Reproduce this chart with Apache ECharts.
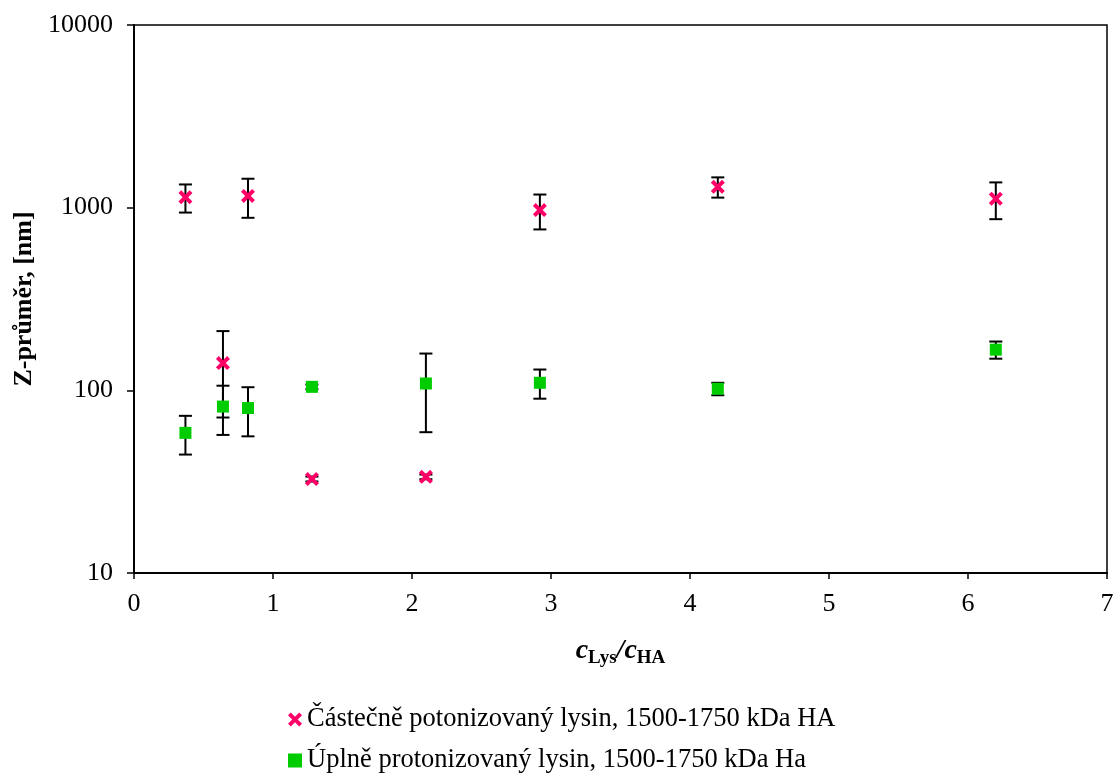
<!DOCTYPE html>
<html><head><meta charset="utf-8">
<script src="https://cdn.jsdelivr.net/npm/echarts@6/dist/echarts.min.js"></script>
<style>html,body{margin:0;padding:0;background:#fff}#c{width:1117px;height:774px}</style>
</head><body><div id="c"></div>
<script>
// Data
const xPartial = [0.37, 0.64, 0.82, 1.28, 2.10, 2.92, 4.20, 6.20];
const yPartial = [1140, 141, 1160, 32.7, 33.6, 970, 1300, 1120];
const errPartial = [200, 70, 280, 1, 1, 210, 165, 255];

const xFull = [0.37, 0.64, 0.82, 1.28, 2.10, 2.92, 4.20, 6.20];
const yFull = [58.5, 81.5, 80, 104.5, 109, 110, 102, 167];
const errFull = [14, 24.5, 24, 3, 50, 20, 8, 18];

const yTicks = [10, 100, 1000, 10000];
const seriesNames = ['Částečně potonizovaný lysin, 1500-1750 kDa HA', 'Úplně protonizovaný lysin, 1500-1750 kDa Ha'];

const crossPath = 'path://M0,2 L2,0 L5,3 L8,0 L10,2 L7,5 L10,8 L8,10 L5,7 L2,10 L0,8 L3,5 Z';
const font = '"Liberation Serif","Times New Roman",serif';

function pts(xs, ys) { return xs.map((x, i) => [x, ys[i]]); }
function errs(xs, ys, es) { return xs.map((x, i) => [x, ys[i] - es[i], ys[i] + es[i]]); }

function renderErr(params, api) {
  const x = api.value(0);
  const lo = api.coord([x, api.value(1)]);
  const hi = api.coord([x, api.value(2)]);
  const w = 6.5;
  const st = { stroke: '#000', lineWidth: 2 };
  return {
    type: 'group',
    children: [
      { type: 'line', shape: { x1: lo[0], y1: lo[1], x2: hi[0], y2: hi[1] }, style: st },
      { type: 'line', shape: { x1: lo[0] - w, y1: lo[1], x2: lo[0] + w, y2: lo[1] }, style: st },
      { type: 'line', shape: { x1: hi[0] - w, y1: hi[1], x2: hi[0] + w, y2: hi[1] }, style: st }
    ]
  };
}

const legendText = { fontFamily: font, fontSize: 26.5, color: '#000' };

const chart = echarts.init(document.getElementById('c'), null, { renderer: 'canvas' });
chart.setOption({
  animation: false,
  backgroundColor: '#fff',
  textStyle: { fontFamily: font },
  grid: { left: 134, right: 10, top: 25, bottom: 201, show: true, borderColor: '#000', borderWidth: 1.5 },
  legend: [
    {
      left: 283, top: 701, itemWidth: 14, itemHeight: 14, itemGap: 4,
      data: [{ name: seriesNames[0], icon: crossPath, itemStyle: { color: '#FF0066', opacity: 1 } }],
      textStyle: legendText
    },
    {
      left: 283, top: 742, itemWidth: 14, itemHeight: 14, itemGap: 4,
      data: [{ name: seriesNames[1], icon: 'rect', itemStyle: { color: '#00CC00', opacity: 1 } }],
      textStyle: legendText
    }
  ],
  xAxis: {
    type: 'value', min: 0, max: 7, interval: 1,
    axisLine: { lineStyle: { color: '#000', width: 2 } },
    axisTick: { show: true, inside: false, length: 6, lineStyle: { color: '#000', width: 1.5 } },
    axisLabel: { color: '#000', fontSize: 26, fontFamily: font, margin: 18 },
    splitLine: { show: false },
    name: '{c|c}{s|Lys}{c|/c}{s|HA}',
    nameLocation: 'middle', nameGap: 60,
    nameTextStyle: {
      rich: {
        c: { fontFamily: font, fontStyle: 'italic', fontWeight: 'bold', fontSize: 28, color: '#000' },
        s: { fontFamily: font, fontWeight: 'bold', fontSize: 19, color: '#000', padding: [16, 0, 0, 0] }
      }
    }
  },
  yAxis: {
    type: 'log', logBase: 10, min: 10, max: 10000,
    axisLine: { lineStyle: { color: '#000', width: 2 } },
    axisTick: { show: true, inside: false, length: 7, lineStyle: { color: '#000', width: 1.5 } },
    axisLabel: { color: '#000', fontSize: 26, fontFamily: font, margin: 21,
      formatter: v => yTicks.includes(Math.round(v)) ? String(Math.round(v)) : '' },
    minorTick: { show: false },
    splitLine: { show: false },
    name: 'Z-průměr, [nm]', nameLocation: 'middle', nameGap: 90,
    nameTextStyle: { fontFamily: font, fontWeight: 'bold', fontSize: 26, color: '#000' }
  },
  series: [
    { type: 'custom', name: 'errPartial', renderItem: renderErr, data: errs(xPartial, yPartial, errPartial), z: 1, silent: true },
    { type: 'custom', name: 'errFull', renderItem: renderErr, data: errs(xFull, yFull, errFull), z: 1, silent: true },
    { type: 'scatter', name: seriesNames[1], data: pts(xFull, yFull), symbol: 'rect', symbolSize: 12,
      itemStyle: { color: '#00CC00', opacity: 1 }, z: 3 },
    { type: 'scatter', name: seriesNames[0], data: pts(xPartial, yPartial), symbol: crossPath, symbolSize: 14,
      itemStyle: { color: '#FF0066', opacity: 1 }, z: 4 }
  ]
});
</script>
</body></html>
